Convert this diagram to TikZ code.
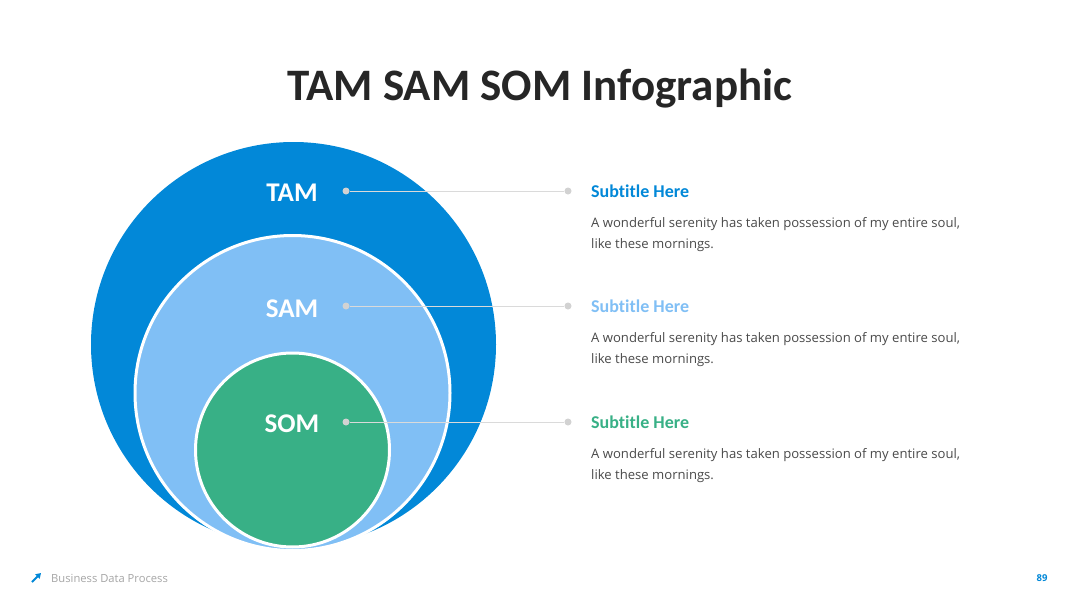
\documentclass[tikz,border=0pt]{standalone}
\usepackage{fontspec}
\setmainfont{Open Sans}
\newfontfamily\headfont[Ligatures={NoCommon}]{Carlito}
\usetikzlibrary{positioning,arrows.meta}
\definecolor{tamblue}{HTML}{0288D8}
\definecolor{samblue}{HTML}{80BFF5}
\definecolor{somgreen}{HTML}{38B086}
\definecolor{linegray}{HTML}{DADADA}
\definecolor{dotgray}{HTML}{D2D2D2}
\definecolor{bodygray}{HTML}{4A4A4A}
\definecolor{footgray}{HTML}{A6A6A6}
\definecolor{titleblack}{HTML}{262626}

\begin{document}
\begin{tikzpicture}[
    x=1pt, y=-1pt,
    market/.style={circle, inner sep=0pt, draw=white, line width=3pt},
    marketlabel/.style={font=\headfont\bfseries\fontsize{27}{30}\selectfont, text=white, inner sep=0pt},
    leaderdot/.style={circle, fill=dotgray, inner sep=0pt, minimum size=7pt},
    leader/.style={draw=linegray, line width=1pt},
    subtitle/.style={anchor=west, font=\headfont\bfseries\fontsize{18}{20}\selectfont, inner sep=0pt},
    body/.style={anchor=north west, align=left, text=bodygray, font=\fontsize{13.1}{21}\selectfont, inner sep=0pt}
]
\useasboundingbox[fill=white] (0,0) rectangle (1080,608);

\node[titleblack, font=\headfont\bfseries\fontsize{45}{54}\selectfont, inner sep=0pt] (Title) at (540,89) {TAM SAM SOM Infographic};

% nested markets
\node[market, fill=tamblue, draw=none, minimum size=405pt] (TAM) at (293.5,344.5) {};
\node[market, fill=samblue, minimum size=315pt] (SAM) at (292.5,393) {};
\node[market, fill=somgreen, minimum size=194pt] (SOM) at (292.5,450) {};

\node[marketlabel] (TamLabel) at (292,193) {TAM};
\node[marketlabel] (SamLabel) at (292,309) {SAM};
\node[marketlabel] (SomLabel) at (292,424) {SOM};

% leaders
\node[leaderdot] (TamDot) at (346,191) {};
\node[leaderdot] (TamEnd) at (568,191) {};
\node[leaderdot] (SamDot) at (346,306) {};
\node[leaderdot] (SamEnd) at (568,306) {};
\node[leaderdot] (SomDot) at (346,422) {};
\node[leaderdot] (SomEnd) at (568,422) {};
\draw[leader] (TamDot) -- (TamEnd);
\draw[leader] (SamDot) -- (SamEnd);
\draw[leader] (SomDot) -- (SomEnd);

% texts
\node[subtitle, tamblue] (TamSub) at (591,191) {Subtitle Here};
\node[body] (TamText) at (591,217) {A wonderful serenity has taken possession of my entire soul,\\like these mornings.};
\node[subtitle, samblue] (SamSub) at (591,306) {Subtitle Here};
\node[body] (SamText) at (591,332) {A wonderful serenity has taken possession of my entire soul,\\like these mornings.};
\node[subtitle, somgreen] (SomSub) at (591,422) {Subtitle Here};
\node[body] (SomText) at (591,448) {A wonderful serenity has taken possession of my entire soul,\\like these mornings.};

% footer
\coordinate (IconFoot) at (32,582);
\coordinate (IconHead) at (41,573);
\draw[tamblue, line width=2pt, -{Triangle[length=5pt,width=6pt]}] (IconFoot) -- (IconHead);
\node[anchor=west, text=footgray, font=\fontsize{11.2}{13}\selectfont, inner sep=0pt] (Footer) at (51,578) {Business Data Process};
\node[text=tamblue, font=\bfseries\fontsize{9.5}{11}\selectfont, inner sep=0pt] (PageNo) at (1042,578) {89};
\end{tikzpicture}
\end{document}
